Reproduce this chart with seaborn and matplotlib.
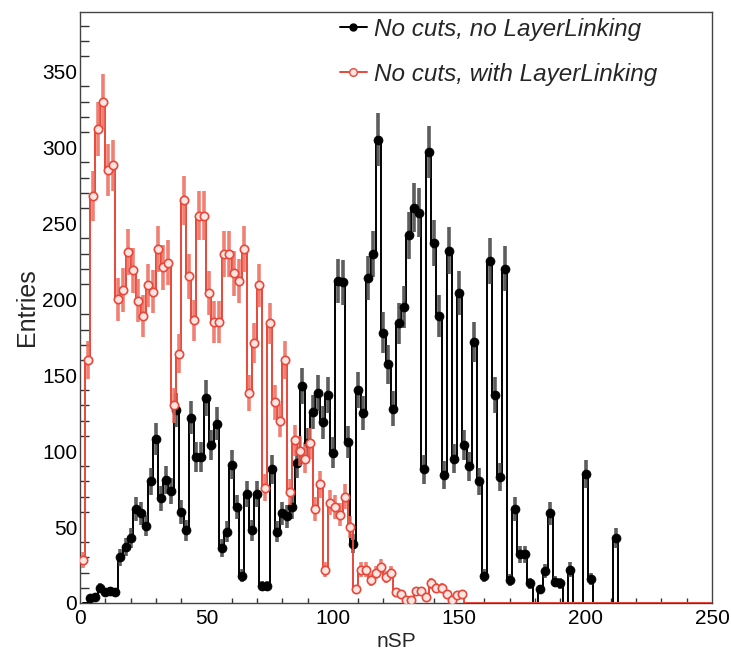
import numpy as np
import pandas as pd
import matplotlib
matplotlib.use("Agg")
import matplotlib.pyplot as plt
from matplotlib.lines import Line2D
from matplotlib.ticker import MultipleLocator
import seaborn as sns

# ---------------- data (bin width 2 in nSP) ----------------
bin_width = 2
x_range = (0, 250)
black_bin_start = 1      # the black histogram's bins sit one unit to the right
red_bin_start = 0

no_linking = [0, 3, 4, 10, 7, 8, 7, 30, 37, 43,
              62, 59, 51, 80, 108, 69, 81, 74, 127, 60,
              48, 122, 96, 96, 135, 104, 118, 36, 47, 91,
              63, 18, 72, 48, 72, 11, 11, 88, 47, 59,
              57, 63, 92, 143, 105, 126, 138, 119, 137, 99,
              212, 211, 106, 39, 140, 125, 214, 230, 305, 178,
              157, 128, 184, 195, 242, 260, 257, 88, 297, 237,
              189, 84, 232, 95, 204, 104, 90, 172, 80, 18,
              225, 137, 83, 220, 15, 62, 32, 32, 13, 0,
              9, 21, 59, 14, 13, 0, 22, 0, 0, 85,
              16, 0, 0, 0, 0, 43, 0, 0, 0, 0,
              0, 0, 0, 0, 0, 0, 0, 0, 0, 0,
              0, 0, 0, 0, 0]

with_linking = [28, 160, 268, 312, 330, 285, 288, 200, 206, 231,
                219, 199, 189, 209, 205, 233, 221, 224, 130, 164,
                265, 215, 186, 255, 255, 204, 185, 185, 230, 230,
                217, 212, 233, 138, 171, 209, 76, 184, 132, 120,
                160, 73, 107, 100, 95, 105, 62, 78, 22, 66,
                63, 58, 70, 50, 9, 22, 22, 15, 20, 24,
                17, 20, 7, 6, 2, 2, 8, 8, 4, 13,
                10, 10, 6, 2, 5, 6, 0, 0, 0, 0,
                0, 0, 0, 0, 0, 0, 0, 0, 0, 0,
                0, 0, 0, 0, 0, 0, 0, 0, 0, 0,
                0, 0, 0, 0, 0, 0, 0, 0, 0, 0,
                0, 0, 0, 0, 0, 0, 0, 0, 0, 0,
                0, 0, 0, 0, 0]

label_black = "No cuts, no LayerLinking"
label_red = "No cuts, with LayerLinking"
x_label = "nSP"
y_label = "Entries"

# ---------------- build table ----------------
n_bins = len(no_linking)
idx = np.arange(n_bins)
c_black = black_bin_start + bin_width * (idx + 0.5)
c_red = red_bin_start + bin_width * (idx + 0.5)
df = pd.DataFrame({"nSP": np.concatenate([c_black, c_red]),
                   "Entries": np.array(no_linking + with_linking, dtype=float),
                   "series": [label_black] * n_bins + [label_red] * n_bins})
df["err"] = np.sqrt(df["Entries"])

BLACK = "#000000"
RED = "#e8473a"

sns.set_theme(style="white")
plt.rcParams["font.family"] = ["Liberation Sans", "DejaVu Sans"]

W, H = 731, 655
fig = plt.figure(figsize=(W / 100, H / 100), dpi=100)
ax = fig.add_axes([80 / W, 52 / H, 632 / W, 591 / H])

specs = [(label_black, BLACK, "#404040", 3, black_bin_start),
         (label_red, RED, "#ee6a5c", 4, red_bin_start)]
for name, col, ecol, z, start in specs:
    d = df[df["series"] == name].reset_index(drop=True)
    sns.histplot(x=d["nSP"].to_numpy(), weights=d["Entries"].to_numpy(),
                 binwidth=bin_width, binrange=(start, start + bin_width * n_bins),
                 element="step", fill=False, color=col, linewidth=1.4, ax=ax, zorder=z)
    nz = d[d["Entries"] > 0]
    ax.errorbar(nz["nSP"], nz["Entries"], yerr=nz["err"], fmt="none",
                ecolor=ecol, elinewidth=2.6, alpha=0.85, zorder=z + 0.1, capsize=0)
    if name == label_black:
        sns.scatterplot(data=nz, x="nSP", y="Entries", marker="o", s=42,
                        color=BLACK, edgecolor=BLACK, linewidth=0.5, ax=ax, zorder=z + 0.2)
    else:
        sns.scatterplot(data=nz, x="nSP", y="Entries", marker="o", s=36,
                        color="#fde6e2", edgecolor=RED, linewidth=1.2, ax=ax, zorder=z + 0.2)

ax.set_xlim(*x_range)
ax.set_ylim(0, 389)
ax.xaxis.set_major_locator(MultipleLocator(50))
ax.xaxis.set_minor_locator(MultipleLocator(10))
ax.yaxis.set_major_locator(MultipleLocator(50))
ax.yaxis.set_minor_locator(MultipleLocator(10))
ax.tick_params(axis="both", which="both", direction="in", colors="#333333",
               labelcolor="black", labelsize=15, width=1)
ax.tick_params(axis="x", which="major", length=7, pad=4, top=False)
ax.tick_params(axis="x", which="minor", length=3.5, bottom=True, top=False)
ax.tick_params(axis="y", which="major", length=13, pad=2, right=False)
ax.tick_params(axis="y", which="minor", length=6.5, left=True, right=False)
for s in ax.spines.values():
    s.set_color("#444444")
    s.set_linewidth(1.0)

ax.set_xlabel(x_label, fontsize=15, labelpad=3)
ax.set_ylabel(y_label, fontsize=18, labelpad=2)

handles = [Line2D([0], [0], color=BLACK, lw=1.4, marker="o", markersize=5,
                  markerfacecolor=BLACK, markeredgecolor=BLACK),
           Line2D([0], [0], color=RED, lw=1.4, marker="o", markersize=5.5,
                  markerfacecolor="#fde6e2", markeredgecolor=RED)]
fig.legend(handles, [label_black, label_red], loc="upper left",
           bbox_to_anchor=(340 / W, 1 - 18 / H), frameon=False,
           prop={"style": "italic", "size": 17.5}, handlelength=1.1,
           handletextpad=0.3, labelspacing=0.9, borderpad=0, borderaxespad=0)

fig.savefig("out.png", dpi=100, facecolor="white")
